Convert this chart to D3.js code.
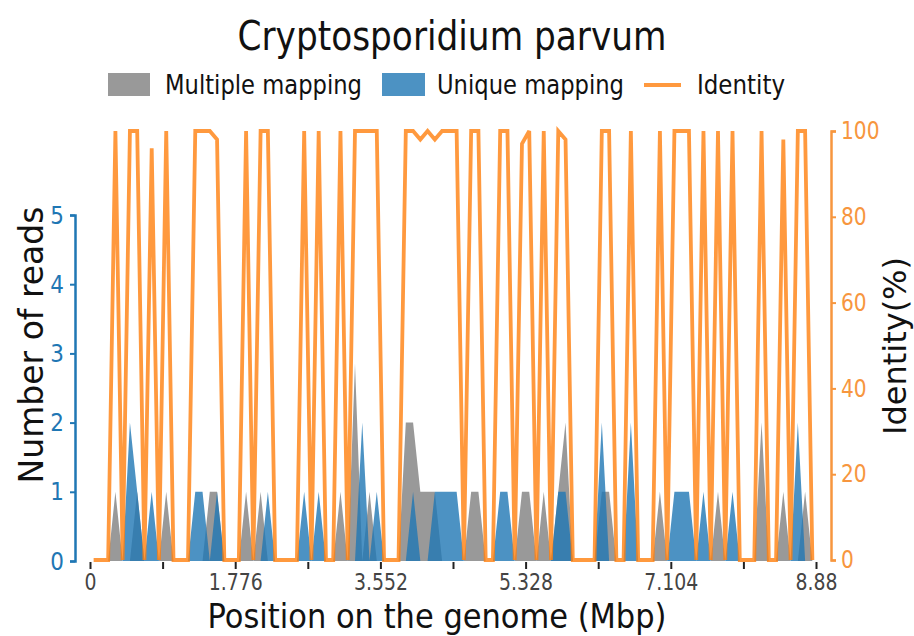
<!DOCTYPE html>
<html>
<head>
<meta charset="utf-8">
<title>Cryptosporidium parvum</title>
<script src="https://d3js.org/d3.v7.min.js"></script>
<style>
  body { margin: 0; background: #fff; }
  text { font-family: "DejaVu Sans", sans-serif; }
</style>
</head>
<body>
<div id="chart"></div>
<script>
// reads per 0.0888 Mbp bin (100 bins over 8.88 Mbp)
const genomeLength = 8.88;
const multipleReads = [
  0, 0, 0, 1, 0, 0, 1, 0, 0, 0,
  1, 0, 0, 0, 0, 0, 1, 1, 0, 0,
  0, 1, 0, 1, 0, 0, 0, 0, 0, 0,
  0, 0, 0, 0, 1, 0, 2.85, 0, 1, 0,
  0, 0, 0, 2, 2, 1, 1, 1, 0, 0,
  0, 0, 1, 1, 0, 0, 0, 0, 0, 1,
  1, 0, 1, 0, 1, 2, 0, 0, 0, 0,
  1, 1, 0, 0, 0, 0, 0, 0, 1, 0,
  0, 0, 0, 0, 0, 0, 1, 0, 0, 0,
  0, 0, 2, 0, 0, 1, 0, 0, 1, 0
];
const uniqueReads = [
  0, 0, 0, 0, 0, 2, 1, 0, 1, 0,
  0, 0, 0, 0, 1, 1, 0, 1, 0, 0,
  0, 0, 0, 0, 1, 0, 0, 0, 0, 1,
  0, 1, 0, 0, 0, 0, 0, 2, 0, 1,
  0, 0, 0, 0, 1, 0, 0, 1, 1, 1,
  1, 0, 0, 0, 0, 0, 1, 1, 0, 0,
  0, 0, 0, 0, 1, 1, 0, 0, 0, 0,
  2, 0, 0, 0, 2, 0, 0, 0, 0, 0,
  1, 1, 1, 0, 1, 0, 0, 0, 1, 0,
  0, 0, 0, 0, 0, 0, 0, 2, 0, 0
];
const identity = [
  0, 0, 0, 100, 0, 100, 100, 0, 96, 0,
  100, 0, 0, 0, 100, 100, 100, 98, 0, 0,
  0, 100, 0, 100, 100, 0, 0, 0, 0, 100,
  0, 100, 0, 0, 100, 0, 100, 100, 100, 100,
  0, 0, 0, 100, 100, 98, 100, 98, 100, 100,
  100, 0, 100, 100, 0, 0, 100, 100, 0, 97,
  100, 0, 100, 0, 100, 98, 0, 0, 0, 0,
  100, 100, 0, 0, 100, 0, 0, 0, 100, 0,
  100, 100, 100, 0, 100, 0, 100, 0, 100, 0,
  0, 0, 100, 0, 0, 98, 0, 100, 100, 0
];

const xTickValues = [0, 0.888, 1.776, 2.664, 3.552, 4.44, 5.328, 6.216, 7.104, 7.992, 8.88];
const xTickLabels = ["0", "", "1.776", "", "3.552", "", "5.328", "", "7.104", "", "8.88"];
const readTicks = [0, 1, 2, 3, 4, 5];
const identityTicks = [0, 20, 40, 60, 80, 100];
const legendItems = ["Multiple mapping", "Unique mapping", "Identity"];

const blue = "#1f77b4", orange = "#ff7f0e", grey = "#808080", axisOrange = "#f7963e";
const binWidth = genomeLength / identity.length;

const svg = d3.select("#chart").append("svg")
  .attr("width", 914).attr("height", 636);

const x = d3.scaleLinear().domain([0, genomeLength]).range([90, 816]);
const yReads = d3.scaleLinear().domain([0, 5]).range([561, 215]);
const yIdent = d3.scaleLinear().domain([0, 100]).range([560, 131]);

// glyphs in the original are a bit narrow
function squeeze(sel, k) {
  sel.each(function () {
    const w = this.getComputedTextLength();
    if (w > 0) d3.select(this).attr("textLength", w * k).attr("lengthAdjust", "spacingAndGlyphs");
  });
}

const binX = (d, i) => x((i + 0.5) * binWidth);

const area = d3.area().x(binX).y0(yReads(0)).y1(d => yReads(d));

svg.append("path").datum(multipleReads)
  .attr("d", area).attr("fill", grey).attr("fill-opacity", 0.8);
svg.append("path").datum(uniqueReads)
  .attr("d", area).attr("fill", blue).attr("fill-opacity", 0.8);

const line = d3.line().x(binX).y(d => yIdent(d));
svg.append("path").datum(identity)
  .attr("d", line).attr("fill", "none")
  .attr("stroke", orange).attr("stroke-opacity", 0.8)
  .attr("stroke-width", 3.8).attr("stroke-linejoin", "miter").attr("stroke-miterlimit", 3);

// x axis (ticks only, no spine)
const xAxis = svg.append("g").attr("transform", "translate(0,562)")
  .call(d3.axisBottom(x).tickValues(xTickValues)
    .tickFormat((d, i) => xTickLabels[i]).tickSize(7).tickPadding(5));
xAxis.select(".domain").remove();
xAxis.selectAll(".tick line").attr("stroke", "#222").attr("stroke-width", 2);
xAxis.selectAll("text").attr("fill", "#444").attr("font-size", 23).call(squeeze, 0.82);

// left axis
const yAxisL = svg.append("g").attr("transform", "translate(75,0)")
  .call(d3.axisLeft(yReads).tickValues(readTicks).tickFormat(d3.format("d"))
    .tickSize(5).tickPadding(6));
yAxisL.select(".domain").attr("stroke", blue).attr("stroke-width", 2.5);
yAxisL.selectAll(".tick line").attr("stroke", blue).attr("stroke-width", 2);
yAxisL.selectAll("text").attr("fill", blue).attr("font-size", 25).call(squeeze, 0.86);

// right axis
const yAxisR = svg.append("g").attr("transform", "translate(831,0)")
  .call(d3.axisRight(yIdent).tickValues(identityTicks).tickFormat(d3.format("d"))
    .tickSize(5).tickPadding(5));
yAxisR.select(".domain").attr("stroke", axisOrange).attr("stroke-width", 2.5);
yAxisR.selectAll(".tick line").attr("stroke", axisOrange).attr("stroke-width", 2);
yAxisR.selectAll("text").attr("fill", axisOrange).attr("font-size", 24).call(squeeze, 0.84);

// axis titles
svg.append("text").attr("x", 437).attr("y", 628).attr("text-anchor", "middle")
  .attr("font-size", 34).attr("fill", "#111")
  .attr("textLength", 459).attr("lengthAdjust", "spacingAndGlyphs")
  .text("Position on the genome (Mbp)");
svg.append("text").attr("transform", "translate(43,345) rotate(-90)")
  .attr("text-anchor", "middle").attr("font-size", 33).attr("fill", "#111")
  .text("Number of reads");
svg.append("text").attr("transform", "translate(906,346) rotate(-90)")
  .attr("text-anchor", "middle").attr("font-size", 32).attr("fill", "#111")
  .text("Identity(%)");

// title
svg.append("text").attr("x", 452).attr("y", 50).attr("text-anchor", "middle")
  .attr("font-size", 40).attr("fill", "#111")
  .attr("textLength", 429).attr("lengthAdjust", "spacingAndGlyphs")
  .text("Cryptosporidium parvum");

// legend
const legend = svg.append("g");
legend.append("rect").attr("x", 108).attr("y", 73).attr("width", 42).attr("height", 23)
  .attr("fill", grey).attr("fill-opacity", 0.8);
legend.append("rect").attr("x", 382).attr("y", 73).attr("width", 43).attr("height", 23)
  .attr("fill", blue).attr("fill-opacity", 0.8);
legend.append("line").attr("x1", 644).attr("x2", 681).attr("y1", 85).attr("y2", 85)
  .attr("stroke", orange).attr("stroke-opacity", 0.8).attr("stroke-width", 4);
const legendX = [165, 437, 697], legendW = [197, 187, 88];
legend.selectAll("text.lg").data(legendItems).enter().append("text")
  .attr("class", "lg")
  .attr("x", (d, i) => legendX[i]).attr("y", 94)
  .attr("font-size", 27).attr("fill", "#111")
  .attr("textLength", (d, i) => legendW[i]).attr("lengthAdjust", "spacingAndGlyphs")
  .text(d => d);
</script>
</body>
</html>
